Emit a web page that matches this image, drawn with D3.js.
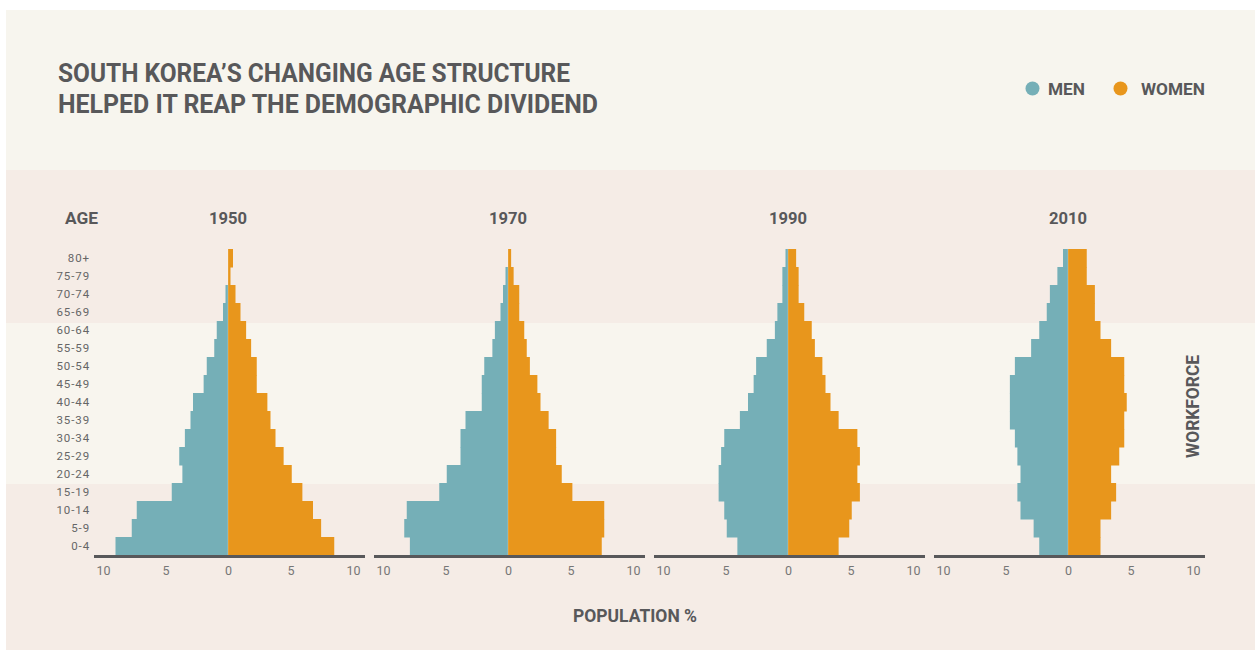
<!DOCTYPE html>
<html>
<head>
<meta charset="utf-8">
<script src="https://cdn.jsdelivr.net/npm/d3@7"></script>
<style>
  html, body { margin: 0; padding: 0; background: #ffffff; }
  svg { display: block; }
  text { font-family: Roboto, "Open Sans", sans-serif; }
</style>
</head>
<body>
<svg id="chart" width="1255" height="650"></svg>
<script>
// ---------- DATA ----------
const ages = ["80+","75-79","70-74","65-69","60-64","55-59","50-54","45-49","40-44","35-39","30-34","25-29","20-24","15-19","10-14","5-9","0-4"];
const years = ["1950","1970","1990","2010"];
const xTicks = [-10, -5, 0, 5, 10];
const workforceAges = ["60-64","55-59","50-54","45-49","40-44","35-39","30-34","25-29","20-24"];

const men1950   = [0.0, 0.0, 0.2, 0.4, 0.9, 1.1, 1.7, 1.95, 2.8, 3.0, 3.45, 3.9, 3.65, 4.5, 7.3, 7.7, 9.0];
const women1950 = [0.4, 0.2, 0.6, 1.0, 1.45, 1.85, 2.3, 2.3, 3.15, 3.4, 3.8, 4.45, 5.1, 5.95, 6.8, 7.45, 8.5];
const men1970   = [0.0, 0.2, 0.4, 0.6, 1.05, 1.25, 1.9, 2.1, 2.1, 3.4, 3.8, 3.8, 4.9, 5.5, 8.1, 8.3, 7.85];
const women1970 = [0.25, 0.45, 0.9, 0.9, 1.3, 1.5, 1.75, 2.35, 2.6, 3.25, 3.85, 3.85, 4.3, 5.15, 7.7, 7.7, 7.5];
const men1990   = [0.2, 0.45, 0.45, 0.85, 1.05, 1.7, 2.55, 2.75, 3.2, 3.85, 5.1, 5.35, 5.55, 5.55, 5.1, 4.9, 4.05];
const women1990 = [0.65, 0.85, 0.85, 1.3, 1.9, 2.15, 2.75, 3.0, 3.4, 4.05, 5.55, 5.75, 5.55, 5.75, 5.1, 4.9, 4.05];
const men2010   = [0.4, 0.85, 1.45, 1.7, 2.3, 2.95, 4.25, 4.65, 4.65, 4.65, 4.25, 4.05, 3.8, 4.05, 3.8, 2.75, 2.3];
const women2010 = [1.5, 1.5, 2.15, 2.15, 2.6, 3.45, 4.5, 4.5, 4.7, 4.5, 4.5, 4.1, 3.45, 3.85, 3.45, 2.6, 2.6];

const menSeries = [men1950, men1970, men1990, men2010];
const womenSeries = [women1950, women1970, women1990, women2010];

const titleLines = ["SOUTH KOREA\u2019S CHANGING AGE STRUCTURE", "HELPED IT REAP THE DEMOGRAPHIC DIVIDEND"];

// ---------- STYLE ----------
const C = {
  men: "#75afb7", women: "#e8961c", text: "#58585a", sub: "#666666",
  top: "#f7f5ee", bottom: "#f5ece6", band: "#f8f5ee", axis: "#58585a"
};

const svg = d3.select("#chart");

// backgrounds
svg.append("rect").attr("x", 6).attr("y", 10).attr("width", 1249).attr("height", 160).attr("fill", C.top);
svg.append("rect").attr("x", 6).attr("y", 170).attr("width", 1249).attr("height", 480).attr("fill", C.bottom);

const y = d3.scaleBand().domain(ages).range([249, 555]).padding(0);

// workforce band
svg.append("rect")
  .attr("x", 6).attr("width", 1249)
  .attr("y", y(workforceAges[0]) + 2)
  .attr("height", y(workforceAges[workforceAges.length - 1]) + y.bandwidth() - y(workforceAges[0]) - 1)
  .attr("fill", C.band);

function fitText(sel, w) {
  sel.attr("textLength", w).attr("lengthAdjust", "spacingAndGlyphs");
  return sel;
}

// title
titleLines.forEach((t, i) => {
  const tx = svg.append("text").attr("x", 58).attr("y", 82 + i * 31)
    .attr("font-size", 25).attr("font-weight", 700).attr("fill", C.text).text(t);
  fitText(tx, i === 0 ? 512 : 540);
});

// legend
const legend = [
  { label: "MEN", color: C.men, cx: 1032.5, tx: 1048, w: 37 },
  { label: "WOMEN", color: C.women, cx: 1120.5, tx: 1141, w: 64 }
];
legend.forEach(l => {
  svg.append("circle").attr("cx", l.cx).attr("cy", 88.5).attr("r", 7).attr("fill", l.color);
  fitText(svg.append("text").attr("x", l.tx).attr("y", 94.5).attr("font-size", 17)
    .attr("font-weight", 700).attr("fill", C.text).text(l.label), l.w);
});

// AGE header
fitText(svg.append("text").attr("x", 65).attr("y", 224).attr("font-size", 17)
  .attr("font-weight", 700).attr("fill", C.text).text("AGE"), 33);

// age labels
svg.append("g").selectAll("text").data(ages).join("text")
  .attr("x", 90).attr("y", d => y(d) + y.bandwidth() / 2 + 4)
  .attr("text-anchor", "end").attr("font-size", 11.5).attr("letter-spacing", 0.9)
  .attr("fill", C.sub).text(d => d);

// panels
const centers = [228, 508, 788, 1068];
years.forEach((yr, i) => {
  const c = centers[i];
  const x = d3.scaleLinear().domain([-10, 10]).range([c - 125, c + 125]);
  const g = svg.append("g");

  // year label
  fitText(g.append("text").attr("x", x(0) - 19).attr("y", 224).attr("font-size", 17)
    .attr("font-weight", 700).attr("fill", C.text).text(yr), 38);

  const men = menSeries[i], women = womenSeries[i];
  g.selectAll("rect.men").data(ages).join("rect").attr("class", "men")
    .attr("x", (d, k) => x(-men[k])).attr("width", (d, k) => x(0) - x(-men[k]))
    .attr("y", d => y(d)).attr("height", y.bandwidth() + 0.5)
    .attr("fill", C.men);
  g.selectAll("rect.women").data(ages).join("rect").attr("class", "women")
    .attr("x", x(0)).attr("width", (d, k) => x(women[k]) - x(0))
    .attr("y", d => y(d)).attr("height", y.bandwidth() + 0.5)
    .attr("fill", C.women);
  // faint centre divider
  g.append("line").attr("x1", x(0)).attr("x2", x(0))
    .attr("y1", y.range()[0]).attr("y2", y.range()[1])
    .attr("stroke", "rgba(255,255,255,0.22)").attr("stroke-width", 1);

  // axis
  const axis = d3.axisBottom(x).tickValues(xTicks).tickSize(0).tickPadding(10)
    .tickFormat(d => Math.abs(d));
  const ag = g.append("g").attr("transform", `translate(0,${y.range()[1] + 1})`).call(axis);
  ag.select(".domain").remove();
  ag.selectAll("text").attr("font-size", 12.5).attr("fill", "#777")
    .attr("font-family", "Roboto, sans-serif");
  g.append("line").attr("x1", c - 134).attr("x2", c + 137)
    .attr("y1", y.range()[1] + 1.5).attr("y2", y.range()[1] + 1.5)
    .attr("stroke", C.axis).attr("stroke-width", 3);
});

// WORKFORCE
fitText(svg.append("text")
  .attr("transform", "translate(1199,406.5) rotate(-90)")
  .attr("text-anchor", "middle").attr("font-size", 18).attr("font-weight", 700)
  .attr("fill", C.text).text("WORKFORCE"), 103);

// POPULATION %
fitText(svg.append("text").attr("x", 573).attr("y", 622).attr("font-size", 18)
  .attr("font-weight", 700).attr("fill", C.text).text("POPULATION %"), 124);
</script>
</body>
</html>
